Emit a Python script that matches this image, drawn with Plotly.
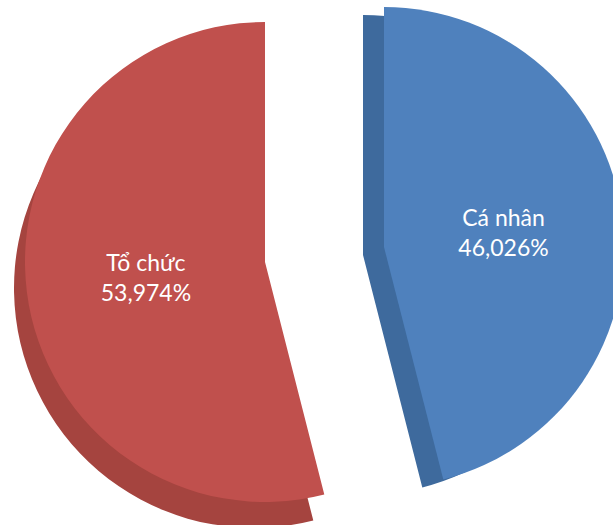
import plotly.graph_objects as go

# ---- data ----
categories = ["Cá nhân", "Tổ chức"]
values = [46.026, 53.974]
top_colors = ["#4F81BD", "#C0504D"]
side_colors = ["#3E6A9D", "#A5443F"]

# ---- layout geometry (pixels) ----
W, H = 640, 535
R = 240
# per-slice centers of the top surface (exploded look) and depth offsets
centers = [(384, 247), (265, 262)]
depth_off = [(-21, 8), (-11, 26)]


def dom(cx, cy):
    return dict(x=[(cx - R) / W, (cx + R) / W],
                y=[1 - (cy + R) / H, 1 - (cy - R) / H])


def fmt(v):
    return f"{v:.3f}".replace(".", ",") + "%"


fig = go.Figure()
transparent = "rgba(0,0,0,0)"

# depth (side) layers first
for i in range(len(values)):
    cx, cy = centers[i]
    dx, dy = depth_off[i]
    cols = [transparent] * len(values)
    cols[i] = side_colors[i]
    fig.add_trace(go.Pie(
        labels=categories, values=values, sort=False, direction="clockwise",
        rotation=0, marker=dict(colors=cols, line=dict(width=0)),
        textinfo="none", hoverinfo="skip", showlegend=False,
        domain=dom(cx + dx, cy + dy),
    ))

# top surfaces
for i in range(len(values)):
    cx, cy = centers[i]
    cols = [transparent] * len(values)
    cols[i] = top_colors[i]
    texts = [""] * len(values)
    texts[i] = f"{categories[i]}<br>{fmt(values[i])}"
    fig.add_trace(go.Pie(
        labels=categories, values=values, sort=False, direction="clockwise",
        rotation=0, marker=dict(colors=cols, line=dict(width=0)),
        text=texts, textinfo="text", textposition="inside",
        insidetextorientation="horizontal",
        textfont=dict(family="Lato, Open Sans, sans-serif", size=23, color="white"),
        hoverinfo="label+percent", showlegend=False,
        domain=dom(cx, cy),
    ))

fig.update_layout(
    width=W, height=H, margin=dict(l=0, r=0, t=0, b=0),
    paper_bgcolor="white", plot_bgcolor="white",
    showlegend=False,
)

fig.write_html("out.html", config={"displayModeBar": False},
               post_script="document.body.style.margin='0';document.body.style.overflow='hidden';")
